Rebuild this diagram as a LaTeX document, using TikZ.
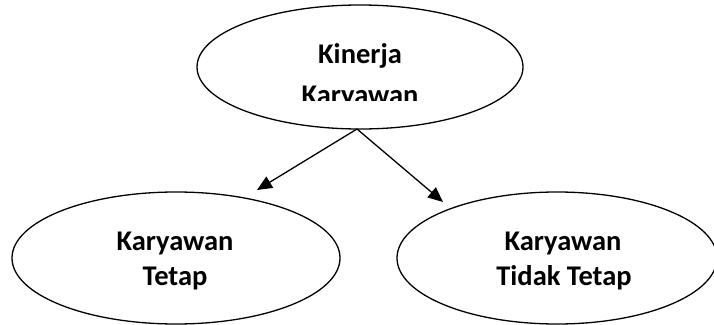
\documentclass[tikz,border=0pt]{standalone}
\usepackage{fontspec}
\setmainfont{Carlito}
\usetikzlibrary{shapes.geometric,arrows.meta}
\begin{document}
\begin{tikzpicture}[x=1pt,y=-1pt,
  oval/.style={ellipse,draw,line width=1.3pt,inner sep=0pt},
  lbl/.style={font=\fontsize{28.5}{32}\selectfont\bfseries,anchor=base,inner sep=0pt},
  arr/.style={line width=1.3pt,-{Triangle[length=15pt,width=13pt]}}]
\useasboundingbox (0,0) rectangle (714,324);
\clip (0,0) rectangle (714,324);
\node[oval,minimum width=326pt,minimum height=124pt] (top) at (360,67) {};
\node[oval,minimum width=328pt,minimum height=132pt] (left) at (176,258) {};
\node[oval,minimum width=320pt,minimum height=132pt] (right) at (557,258) {};
\node[lbl] (k1) at (360,63) {Kinerja};
\begin{scope}
\clip (0,0) rectangle (714,100);
\node[lbl] (k2) at (360,104) {Karyawan};
\end{scope}
\node[lbl] (l1) at (175,250) {Karyawan};
\node[lbl] (l2) at (175,285) {Tetap};
\node[lbl] (r1) at (563,250) {Karyawan};
\node[lbl] (r2) at (564,285) {Tidak Tetap};
\coordinate (la) at (257,190);
\coordinate (ra) at (443,202);
\coordinate (src) at (357,129);
\draw[arr] (src) -- (la);
\draw[arr] (src) -- (ra);
\end{tikzpicture}
\end{document}
